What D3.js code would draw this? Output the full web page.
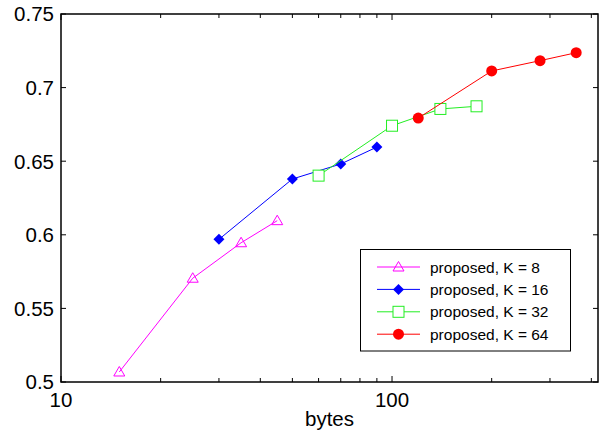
<!DOCTYPE html>
<html>
<head>
<meta charset="utf-8">
<script src="https://cdn.jsdelivr.net/npm/d3@7"></script>
<style>
  body { margin: 0; background: #fff; }
  text { font-family: "Liberation Sans", Arial, sans-serif; fill: #000; }
</style>
</head>
<body>
<script>
const width = 606
const height = 432
const margin = {left: 61, right: 8, top: 14, bottom: 50}

// data
const seriesNames = ['proposed, K = 8', 'proposed, K = 16', 'proposed, K = 32', 'proposed, K = 64']
const bytes8 = [15, 25, 35, 45]
const acc8 = [0.5068, 0.5705, 0.5946, 0.6096]
const bytes16 = [30, 50, 70, 90]
const acc16 = [0.5969, 0.6379, 0.6481, 0.6596]
const bytes32 = [60, 100, 140, 180]
const acc32 = [0.6402, 0.6741, 0.6855, 0.6873]
const bytes64 = [120, 200, 280, 360]
const acc64 = [0.6793, 0.7113, 0.7183, 0.7237]

const xTickLabels = [10, 100]
const xMinorTicks = [20, 30, 40, 50, 60, 70, 80, 90, 200, 300, 400]
const yTicks = [0.5, 0.55, 0.6, 0.65, 0.7, 0.75]

const colors = {
    k8: '#ff00ff',
    k16: '#0000ff',
    k32: '#22ee22',
    k64: '#ff0000',
    axis: '#000'
}

const series = [
    {name: seriesNames[0], xs: bytes8, ys: acc8, color: colors.k8, marker: 'triangle'},
    {name: seriesNames[1], xs: bytes16, ys: acc16, color: colors.k16, marker: 'diamond'},
    {name: seriesNames[2], xs: bytes32, ys: acc32, color: colors.k32, marker: 'square'},
    {name: seriesNames[3], xs: bytes64, ys: acc64, color: colors.k64, marker: 'circle'}
]

const svg = d3.select('body')
    .append('svg')
    .attr('width', width)
    .attr('height', height)

const x = d3.scaleLog()
    .domain([10, 419])
    .range([margin.left, width - margin.right])

const y = d3.scaleLinear()
    .domain([0.5, 0.75])
    .range([height - margin.bottom, margin.top])

const x0 = margin.left, x1 = width - margin.right
const y0 = height - margin.bottom, y1 = margin.top

// ticks (inward, on all four sides)
const ticks = svg.append('g').attr('stroke', colors.axis).attr('stroke-width', 1)
const allX = xTickLabels.concat(xMinorTicks)
allX.forEach(v => {
    const len = xTickLabels.includes(v) ? 6 : 4
    ticks.append('line').attr('x1', x(v)).attr('x2', x(v)).attr('y1', y0).attr('y2', y0 - len)
    ticks.append('line').attr('x1', x(v)).attr('x2', x(v)).attr('y1', y1).attr('y2', y1 + len)
})
yTicks.forEach(v => {
    ticks.append('line').attr('x1', x0).attr('x2', x0 + 5).attr('y1', y(v)).attr('y2', y(v))
    ticks.append('line').attr('x1', x1).attr('x2', x1 - 5).attr('y1', y(v)).attr('y2', y(v))
})

// frame
svg.append('rect')
    .attr('x', x0).attr('y', y1)
    .attr('width', x1 - x0).attr('height', y0 - y1)
    .attr('fill', 'none')
    .attr('stroke', colors.axis)
    .attr('stroke-width', 1.5)

// tick labels
svg.append('g').selectAll('text')
    .data(yTicks)
    .enter().append('text')
    .attr('x', x0 - 7)
    .attr('y', d => y(d))
    .attr('dy', '0.36em')
    .attr('text-anchor', 'end')
    .attr('font-size', 20.5)
    .text(d => d3.format('~g')(d))

svg.append('g').selectAll('text')
    .data(xTickLabels)
    .enter().append('text')
    .attr('x', d => x(d))
    .attr('y', 407)
    .attr('text-anchor', 'middle')
    .attr('font-size', 20.5)
    .text(d => d)

svg.append('text')
    .attr('x', (x0 + x1) / 2)
    .attr('y', 426)
    .attr('text-anchor', 'middle')
    .attr('font-size', 20.5)
    .text('bytes')

const drawMarker = (g, type, cx, cy, color) => {
    if (type === 'triangle') {
        g.append('path')
            .attr('d', `M${cx},${cy - 5.5}L${cx + 5.5},${cy + 4}L${cx - 5.5},${cy + 4}Z`)
            .attr('fill', 'none').attr('stroke', color).attr('stroke-width', 1)
    } else if (type === 'diamond') {
        g.append('path')
            .attr('d', `M${cx},${cy - 5.5}L${cx + 5.5},${cy}L${cx},${cy + 5.5}L${cx - 5.5},${cy}Z`)
            .attr('fill', color)
    } else if (type === 'square') {
        g.append('rect')
            .attr('x', cx - 5.5).attr('y', cy - 5.5).attr('width', 11).attr('height', 11)
            .attr('fill', '#fff').attr('stroke', color).attr('stroke-width', 1)
    } else {
        g.append('circle')
            .attr('cx', cx).attr('cy', cy).attr('r', 5.5)
            .attr('fill', color)
    }
}

const line = d3.line().x(d => x(d[0])).y(d => y(d[1]))

series.forEach(s => {
    const pts = s.xs.map((v, i) => [v, s.ys[i]])
    const g = svg.append('g')
    g.append('path')
        .datum(pts)
        .attr('d', line)
        .attr('fill', 'none')
        .attr('stroke', s.color)
        .attr('stroke-width', 1)
    pts.forEach(p => drawMarker(g, s.marker, x(p[0]), y(p[1]), s.color))
})

// legend
const legend = svg.append('g')
legend.append('rect')
    .attr('x', 360.5).attr('y', 249.5)
    .attr('width', 210).attr('height', 101.5)
    .attr('fill', '#fff')
    .attr('stroke', colors.axis)
    .attr('stroke-width', 1)

series.forEach((s, i) => {
    const ly = 267 + i * 22.4
    legend.append('line')
        .attr('x1', 377).attr('x2', 420)
        .attr('y1', ly).attr('y2', ly)
        .attr('stroke', s.color).attr('stroke-width', 1)
    drawMarker(legend, s.marker, 398.5, ly, s.color)
    legend.append('text')
        .attr('x', 430)
        .attr('y', ly)
        .attr('dy', '0.36em')
        .attr('font-size', 15.5)
        .text(s.name)
})
</script>
</body>
</html>
